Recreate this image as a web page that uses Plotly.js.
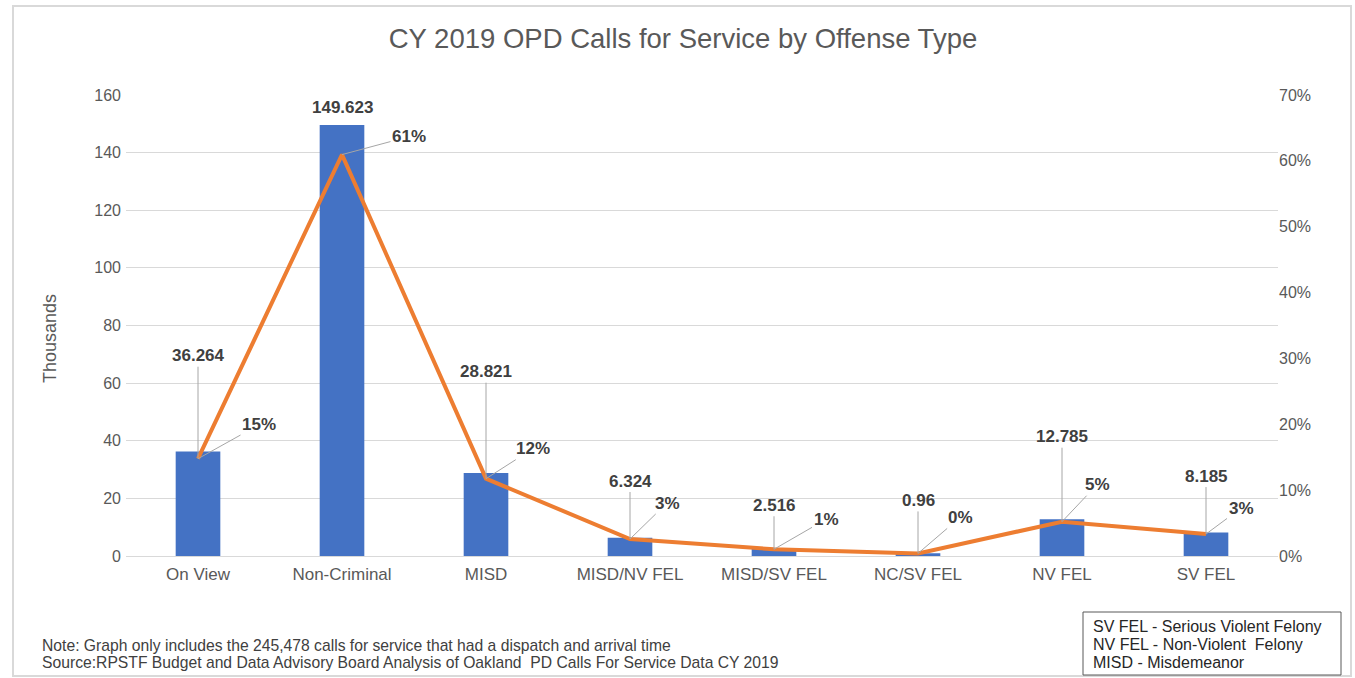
<!DOCTYPE html>
<html>
<head>
<meta charset="utf-8">
<script src="https://cdn.plot.ly/plotly-3.0.1.min.js"></script>
<style>
html,body{margin:0;padding:0;background:#fff;}
#chart{width:1355px;height:678px;}
</style>
</head>
<body>
<div id="chart"></div>
<script>
// ---- data ----
const categories = ['On View','Non-Criminal','MISD','MISD/NV FEL','MISD/SV FEL','NC/SV FEL','NV FEL','SV FEL'];
const callsThousands = [36.264, 149.623, 28.821, 6.324, 2.516, 0.96, 12.785, 8.185];
const shareOfCalls = [0.1477, 0.6095, 0.1174, 0.0258, 0.0102, 0.0039, 0.0521, 0.0333];
const leftTicks = [0, 20, 40, 60, 80, 100, 120, 140, 160];
const rightTicks = [0, 0.1, 0.2, 0.3, 0.4, 0.5, 0.6, 0.7];
const noteLines = [
  'Note: Graph only includes the 245,478 calls for service that had a dispatch and arrival time',
  'Source:RPSTF Budget and Data Advisory Board Analysis of Oakland  PD Calls For Service Data CY 2019'
];
const keyLines = ['SV FEL - Serious Violent Felony', 'NV FEL - Non-Violent  Felony', 'MISD - Misdemeanor'];

// label placement offsets (pixels, layout only)
const barLabelOffsetY = [-103, null, -107, -58, -44, -53, -85, -58];
const pctLabelOffset = [[61,-34],[67,-18],[47,-30],[37,-36],[52,-30],[42,-36],[35,-37],[35,-26]];

const FONT = '"Liberation Sans", Arial, sans-serif';
const labelFont = {family: FONT, size: 17, color: '#404040', weight: 'bold'};

const annotations = [];
categories.forEach((c, i) => {
  const txt = '<b>' + String(callsThousands[i]) + '</b>';
  if (barLabelOffsetY[i] === null) {
    annotations.push({x: c, y: callsThousands[i], xref: 'x', yref: 'y', text: txt,
      showarrow: false, yanchor: 'bottom', yshift: 6, font: labelFont});
  } else {
    annotations.push({x: c, y: shareOfCalls[i], xref: 'x', yref: 'y2', text: txt,
      showarrow: true, arrowhead: 0, arrowwidth: 1, arrowcolor: '#a6a6a6', standoff: 0,
      ax: 0, ay: barLabelOffsetY[i], font: labelFont});
  }
  annotations.push({x: c, y: shareOfCalls[i], xref: 'x', yref: 'y2',
    text: '<b>' + Math.round(shareOfCalls[i] * 100) + '%</b>',
    showarrow: true, arrowhead: 0, arrowwidth: 1, arrowcolor: '#a6a6a6', standoff: 0,
    ax: pctLabelOffset[i][0], ay: pctLabelOffset[i][1], font: labelFont});
});

// axis title
annotations.push({xref: 'paper', yref: 'paper', x: (50 - 126) / 1152, y: (556 - 339) / 461,
  text: 'Thousands', textangle: -90, showarrow: false, xanchor: 'center', yanchor: 'middle',
  font: {family: FONT, size: 18, color: '#595959'}});

// notes
noteLines.forEach((t, k) => {
  annotations.push({xref: 'paper', yref: 'paper', x: (40 - 126) / 1152, y: (556 - (645 + k * 17)) / 461,
    text: t, showarrow: false, xanchor: 'left', yanchor: 'middle',
    font: {family: FONT, size: 15.7, color: '#404040'}});
});

// key box text
keyLines.forEach((t, k) => {
  annotations.push({xref: 'paper', yref: 'paper', x: (1091 - 126) / 1152, y: (556 - (626 + k * 18)) / 461,
    text: t, showarrow: false, xanchor: 'left', yanchor: 'middle', align: 'left',
    font: {family: FONT, size: 16, color: '#262626'}});
});

const traces = [
  {type: 'bar', x: categories, y: callsThousands, marker: {color: '#4472C4'}, width: 0.31,
   yaxis: 'y', hoverinfo: 'x+y'},
  {type: 'scatter', mode: 'lines', x: categories, y: shareOfCalls, yaxis: 'y2',
   line: {color: '#ED7D31', width: 4}, hoverinfo: 'x+y'}
];

const layout = {
  width: 1355, height: 678,
  margin: {l: 126, r: 77, t: 95, b: 122},
  paper_bgcolor: '#ffffff', plot_bgcolor: '#ffffff',
  showlegend: false,
  font: {family: FONT, color: '#595959', size: 16},
  title: {text: 'CY 2019 OPD Calls for Service by Offense Type', xref: 'container', yref: 'container',
    x: 683 / 1355, y: 1 - 38 / 678, xanchor: 'center', yanchor: 'middle',
    font: {family: FONT, size: 27.5, color: '#595959'}},
  xaxis: {type: 'category', showgrid: false, showline: false, zeroline: false, ticks: '',
    ticklabelstandoff: 6,
    tickfont: {family: FONT, size: 17, color: '#595959'}, fixedrange: true},
  yaxis: {range: [0, 160], tickvals: leftTicks, showgrid: true, gridcolor: '#d9d9d9', gridwidth: 1,
    zeroline: true, zerolinecolor: '#d9d9d9', zerolinewidth: 1, showline: false, ticks: '',
    ticklabelstandoff: 4,
    tickfont: {family: FONT, size: 16, color: '#595959'}, fixedrange: true},
  yaxis2: {range: [0, 0.7], tickvals: rightTicks, tickformat: '.0%', overlaying: 'y', side: 'right',
    showgrid: false, zeroline: false, showline: false, ticks: '',
    tickfont: {family: FONT, size: 16, color: '#595959'}, fixedrange: true},
  annotations: annotations,
  shapes: [
    {type: 'rect', xref: 'paper', yref: 'paper',
     x0: (13 - 126) / 1152, x1: (1351 - 126) / 1152, y0: (556 - 676) / 461, y1: (556 - 6) / 461,
     line: {color: '#d9d9d9', width: 2}, layer: 'below'},
    {type: 'rect', xref: 'paper', yref: 'paper',
     x0: (1083 - 126) / 1152, x1: (1341 - 126) / 1152, y0: (556 - 675) / 461, y1: (556 - 612) / 461,
     line: {color: '#595959', width: 1}}
  ]
};

Plotly.newPlot('chart', traces, layout, {displayModeBar: false, staticPlot: true});
</script>
</body>
</html>
